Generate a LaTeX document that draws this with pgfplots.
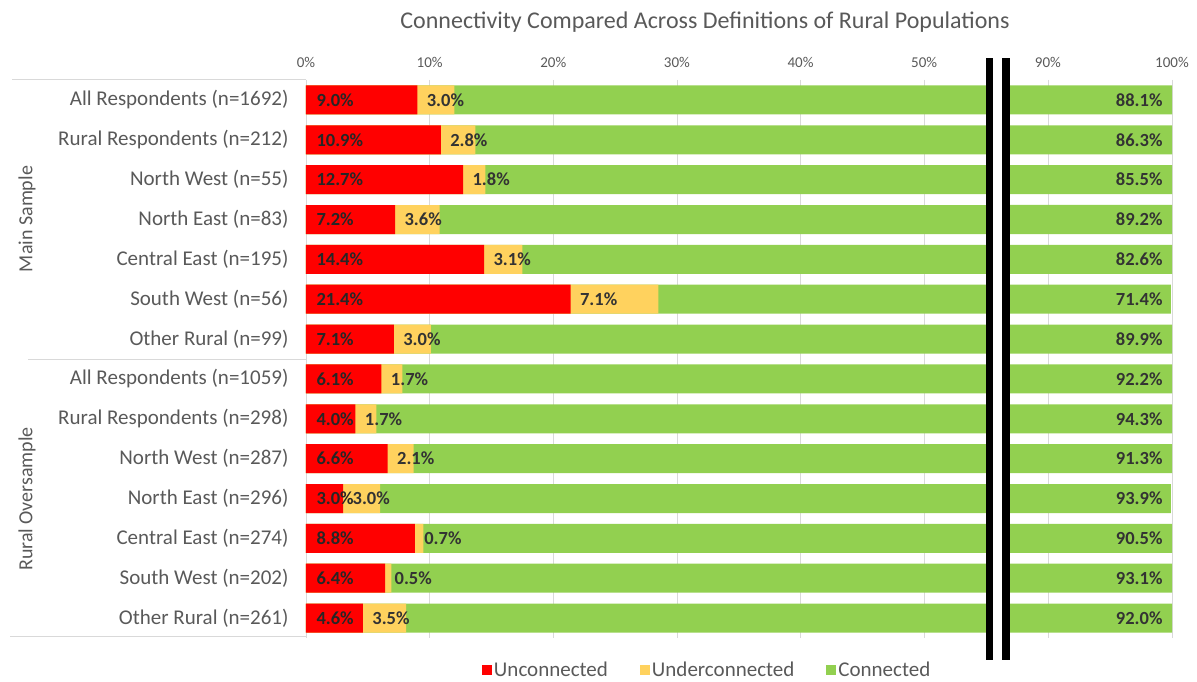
\documentclass[border=0pt]{standalone}
\usepackage{pgfplots}
\pgfplotsset{compat=1.18}
\usepackage{pgfplotstable}
\usepackage{fontspec}
\setmainfont{Carlito}

\definecolor{uncRed}{HTML}{FF0000}
\definecolor{undYel}{HTML}{FFD25E}
\definecolor{conGrn}{HTML}{92D050}
\definecolor{txtGray}{HTML}{595959}
\definecolor{lblDark}{HTML}{333333}
\definecolor{sepGray}{HTML}{D9D9D9}

% row, unconnected, underconnected, connected (percent)
\pgfplotstableread{
row unc under conn
0  9.0  3.0 88.1
1  10.9 2.8 86.3
2  12.7 1.8 85.5
3  7.2  3.6 89.2
4  14.4 3.1 82.6
5  21.4 7.1 71.4
6  7.1  3.0 89.9
7  6.1  1.7 92.2
8  4.0  1.7 94.3
9  6.6  2.1 91.3
10 3.0  3.0 93.9
11 8.8  0.7 90.5
12 6.4  0.5 93.1
13 4.6  3.5 92.0
}\conndata

\pgfplotsset{
  brk/.style={
    scale only axis, height=558pt,
    y dir=reverse, ymin=-0.5, ymax=13.5,
    axis line style={draw=none}, major tick length=0pt,
    xticklabel pos=upper, xmajorgrids, grid style={sepGray, line width=0.8pt},
    xticklabel style={font=\fontsize{15}{18}\selectfont, text=txtGray, yshift=9pt},
  },
  lbl/.style={draw=none, mark=none, forget plot,
    nodes near coords={\pgfmathprintnumber[fixed,fixed zerofill,precision=1,assume math mode=true]{\pgfplotspointmeta}\%},
    every node near coord/.append style={font=\fontsize{18.5}{22}\selectfont\bfseries, text=lblDark}},
}

\begin{document}
\begin{tikzpicture}
\path[use as bounding box] (0,0) rectangle (1197pt,682pt);

% left part of the broken axis: 0 to 55 %
\begin{axis}[brk, at={(306pt,44pt)}, anchor=south west, width=680pt,
  xmin=0, xmax=55,
  xtick={0,10,20,30,40,50}, xticklabels={0\%,10\%,20\%,30\%,40\%,50\%},
  ytick={0,...,13},
  yticklabels={All Respondents (n=1692), Rural Respondents (n=212), North West (n=55),
    North East (n=83), Central East (n=195), South West (n=56), Other Rural (n=99),
    All Respondents (n=1059), Rural Respondents (n=298), North West (n=287),
    North East (n=296), Central East (n=274), South West (n=202), Other Rural (n=261)},
  yticklabel style={font=\fontsize{21}{25}\selectfont, text=txtGray, xshift=-14pt},
  reverse legend,
  legend columns=3,
  legend style={at={(0.590,-0.057)}, anchor=center, draw=none, fill=none,
    font=\fontsize{21}{25}\selectfont, text=txtGray,
    /tikz/column 2/.style={column sep=30pt},
    /tikz/column 4/.style={column sep=30pt}},
  legend image code/.code={\fill[#1] (0pt,-5pt) rectangle (10pt,5pt);},
]
\addplot[xbar, bar shift=0pt, bar width=29pt, fill=conGrn, draw=none]
  table[x expr=\thisrow{unc}+\thisrow{under}+\thisrow{conn}, y=row]{\conndata};
\addlegendentry{Connected}
\addplot[xbar, bar shift=0pt, bar width=29pt, fill=undYel, draw=none]
  table[x expr=\thisrow{unc}+\thisrow{under}, y=row]{\conndata};
\addlegendentry{Underconnected}
\addplot[xbar, bar shift=0pt, bar width=29pt, fill=uncRed, draw=none]
  table[x=unc, y=row]{\conndata};
\addlegendentry{Unconnected}

\addplot[lbl, point meta=\thisrow{unc}, nodes near coords align={anchor=west},
  every node near coord/.append style={xshift=7pt, text=black!85}]
  table[x expr=0, y=row]{\conndata};
\addplot[lbl, point meta=\thisrow{under}, nodes near coords align={anchor=west},
  every node near coord/.append style={xshift=6pt}]
  table[x=unc, y=row]{\conndata};
\end{axis}

% right part of the broken axis: 86.3 to 100 %
\begin{axis}[brk, at={(1002pt,44pt)}, anchor=south west, width=170pt,
  xmin=86.3, xmax=100,
  xtick={90,100}, xticklabels={90\%,100\%},
  ytick=\empty,
]
\addplot[xbar, bar shift=0pt, bar width=29pt, fill=conGrn, draw=none]
  table[x expr=\thisrow{unc}+\thisrow{under}+\thisrow{conn}, y=row]{\conndata};
\addplot[lbl, point meta=\thisrow{conn}, nodes near coords align={anchor=east},
  every node near coord/.append style={xshift=-6pt}]
  table[x expr=100, y=row]{\conndata};
\end{axis}

% axis break
\fill[black] (986pt,22pt) rectangle (993pt,624pt);
\fill[black] (1002pt,22pt) rectangle (1010pt,624pt);

% group separators and labels
\draw[sepGray, line width=1pt] (12pt,602pt) -- (306pt,602pt);
\draw[sepGray, line width=1pt] (28pt,322pt) -- (306pt,322pt);
\draw[sepGray, line width=1pt] (10pt,45pt) -- (306pt,45pt);
\node[rotate=90, text=txtGray, font=\fontsize{20}{24}\selectfont] at (27pt,463pt) {Main Sample};
\node[rotate=90, text=txtGray, font=\fontsize{20}{24}\selectfont] at (27pt,183pt) {Rural Oversample};

% title
\node[text=txtGray, font=\fontsize{24}{28}\selectfont] at (705pt,660pt)
  {Connectivity Compared Across Definitions of Rural Populations};
\end{tikzpicture}
\end{document}
